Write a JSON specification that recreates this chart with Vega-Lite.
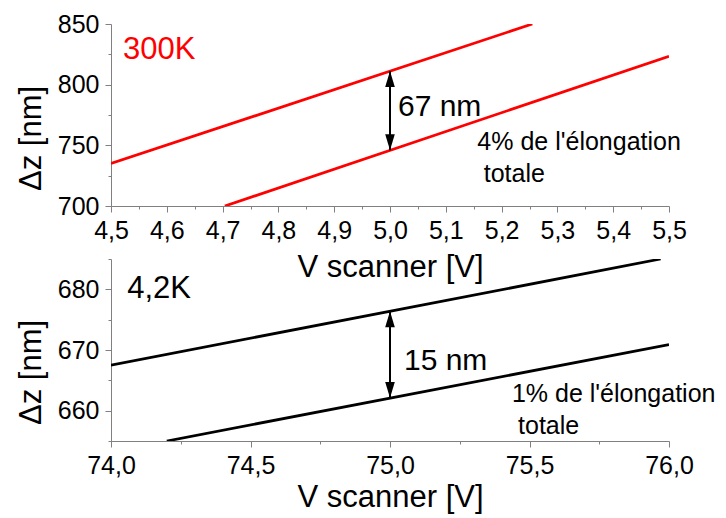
{
  "$schema": "https://vega.github.io/schema/vega-lite/v6.json",
  "background": "white",
  "padding": {"left": 14, "top": 12, "right": 5, "bottom": 5},
  "bounds": "flush",
  "spacing": 53,
  "config": {
    "view": {"stroke": null},
    "font": "Liberation Sans",
    "axis": {
      "domainColor": "#808080",
      "tickColor": "#808080",
      "domainWidth": 1,
      "tickWidth": 1,
      "labelColor": "#000000",
      "labelFont": "Liberation Sans",
      "labelFontSize": 25,
      "labelPadding": 6,
      "titleFont": "Liberation Sans",
      "titleFontSize": 31,
      "titleFontWeight": "normal",
      "titleColor": "#000000",
      "grid": false,
      "labelOverlap": false,
      "labelFlush": false,
      "labelBound": false
    }
  },
  "vconcat": [
    {
      "width": 558,
      "height": 182,
      "layer": [
        {
          "data": {"values": [
            {"s": "a", "v": 4.5, "dz": 735},
            {"s": "a", "v": 5.255, "dz": 850},
            {"s": "b", "v": 4.704, "dz": 700},
            {"s": "b", "v": 5.5, "dz": 823.4}
          ]},
          "mark": {"type": "line", "color": "#ff0000", "strokeWidth": 2.8, "clip": true},
          "encoding": {
            "x": {"field": "v", "type": "quantitative",
              "scale": {"domain": [4.5, 5.5], "nice": false, "zero": false},
              "axis": {
                "title": "V scanner [V]",
                "values": [4.5, 4.55, 4.6, 4.65, 4.7, 4.75, 4.8, 4.85, 4.9, 4.95, 5.0, 5.05, 5.1, 5.15, 5.2, 5.25, 5.3, 5.35, 5.4, 5.45, 5.5],
                "tickCount": 100,
                "labelExpr": "round(datum.value*100) % 10 == 0 ? replace(format(datum.value, '.1f'), '.', ',') : ''",
                "tickSize": {"condition": {"test": "round(datum.value*100) % 10 == 0", "value": 6}, "value": 3},
                "labelOverlap": false,
                "titleY": 70,
                "titleBaseline": "alphabetic"
              }},
            "y": {"field": "dz", "type": "quantitative",
              "scale": {"domain": [700, 850], "nice": false, "zero": false},
              "axis": {
                "title": "Δz [nm]",
                "values": [700, 725, 750, 775, 800, 825, 850],
                "tickCount": 100,
                "labelExpr": "round(datum.value) % 50 == 0 ? format(datum.value, 'd') : ''",
                "tickSize": {"condition": {"test": "round(datum.value) % 50 == 0", "value": 6}, "value": 3},
                "labelOverlap": false,
                "titleX": -71,
                "titleY": 114,
                "titleAlign": "center",
                "titleBaseline": "alphabetic"
              }},
            "detail": {"field": "s", "type": "nominal"}
          }
        },
        {
          "data": {"values": [{"v": 5.0, "lo": 745.9, "hi": 811.2}]},
          "mark": {"type": "rule", "color": "#000000", "strokeWidth": 2},
          "encoding": {
            "x": {"field": "v", "type": "quantitative"},
            "y": {"field": "lo", "type": "quantitative"},
            "y2": {"field": "hi"}
          }
        },
        {
          "data": {"values": [{"v": 5.0, "dz": 811.2, "dir": "up"}, {"v": 5.0, "dz": 745.9, "dir": "down"}]},
          "mark": {"type": "point", "filled": true, "color": "#000000", "opacity": 1, "size": 256, "strokeWidth": 0},
          "encoding": {
            "x": {"field": "v", "type": "quantitative"},
            "y": {"field": "dz", "type": "quantitative"},
            "shape": {"field": "dir", "type": "nominal", "legend": null,
              "scale": {"domain": ["up", "down"], "range": ["M0,0L-0.6,2L0.6,2Z", "M0,0L-0.6,-2L0.6,-2Z"]}}
          }
        },
        {
          "data": {"values": [{"v": 4.5215, "dz": 821.5, "t": "300K"}]},
          "mark": {"type": "text", "align": "left", "baseline": "alphabetic", "fontSize": 31, "color": "#ff0000"},
          "encoding": {
            "x": {"field": "v", "type": "quantitative"},
            "y": {"field": "dz", "type": "quantitative"},
            "text": {"field": "t"}
          }
        },
        {
          "data": {"values": [{"v": 5.0143, "dz": 774, "t": "67 nm"}]},
          "mark": {"type": "text", "align": "left", "baseline": "alphabetic", "fontSize": 30, "color": "#000000"},
          "encoding": {
            "x": {"field": "v", "type": "quantitative"},
            "y": {"field": "dz", "type": "quantitative"},
            "text": {"field": "t"}
          }
        },
        {
          "data": {"values": [
            {"v": 5.1565, "dz": 746, "t": "4% de l'élongation"},
            {"v": 5.168, "dz": 719.7, "t": "totale"}
          ]},
          "mark": {"type": "text", "align": "left", "baseline": "alphabetic", "fontSize": 25, "color": "#000000"},
          "encoding": {
            "x": {"field": "v", "type": "quantitative"},
            "y": {"field": "dz", "type": "quantitative"},
            "text": {"field": "t"}
          }
        }
      ]
    },
    {
      "width": 558,
      "height": 182,
      "layer": [
        {
          "data": {"values": [
            {"s": "a", "v": 74.0, "dz": 667.5},
            {"s": "a", "v": 75.97, "dz": 685},
            {"s": "b", "v": 74.2, "dz": 655},
            {"s": "b", "v": 76.0, "dz": 670.9}
          ]},
          "mark": {"type": "line", "color": "#000000", "strokeWidth": 2.8, "clip": true},
          "encoding": {
            "x": {"field": "v", "type": "quantitative",
              "scale": {"domain": [74, 76], "nice": false, "zero": false},
              "axis": {
                "title": "V scanner [V]",
                "values": [74.0, 74.25, 74.5, 74.75, 75.0, 75.25, 75.5, 75.75, 76.0],
                "tickCount": 100,
                "labelExpr": "round(datum.value*4) % 2 == 0 ? replace(format(datum.value, '.1f'), '.', ',') : ''",
                "tickSize": {"condition": {"test": "round(datum.value*4) % 2 == 0", "value": 6}, "value": 3},
                "labelOverlap": false,
                "titleY": 65,
                "titleBaseline": "alphabetic"
              }},
            "y": {"field": "dz", "type": "quantitative",
              "scale": {"domain": [655, 685], "nice": false, "zero": false},
              "axis": {
                "title": "Δz [nm]",
                "values": [655, 660, 665, 670, 675, 680, 685],
                "tickCount": 100,
                "labelExpr": "round(datum.value) % 10 == 0 ? format(datum.value, 'd') : ''",
                "tickSize": {"condition": {"test": "round(datum.value) % 10 == 0", "value": 6}, "value": 3},
                "labelOverlap": false,
                "titleX": -71,
                "titleY": 113,
                "titleAlign": "center",
                "titleBaseline": "alphabetic"
              }},
            "detail": {"field": "s", "type": "nominal"}
          }
        },
        {
          "data": {"values": [{"v": 75.0, "lo": 662.1, "hi": 676.4}]},
          "mark": {"type": "rule", "color": "#000000", "strokeWidth": 2},
          "encoding": {
            "x": {"field": "v", "type": "quantitative"},
            "y": {"field": "lo", "type": "quantitative"},
            "y2": {"field": "hi"}
          }
        },
        {
          "data": {"values": [{"v": 75.0, "dz": 676.4, "dir": "up"}, {"v": 75.0, "dz": 662.1, "dir": "down"}]},
          "mark": {"type": "point", "filled": true, "color": "#000000", "opacity": 1, "size": 256, "strokeWidth": 0},
          "encoding": {
            "x": {"field": "v", "type": "quantitative"},
            "y": {"field": "dz", "type": "quantitative"},
            "shape": {"field": "dir", "type": "nominal", "legend": null,
              "scale": {"domain": ["up", "down"], "range": ["M0,0L-0.6,2L0.6,2Z", "M0,0L-0.6,-2L0.6,-2Z"]}}
          }
        },
        {
          "data": {"values": [{"v": 74.058, "dz": 678.6, "t": "4,2K"}]},
          "mark": {"type": "text", "align": "left", "baseline": "alphabetic", "fontSize": 31, "color": "#000000"},
          "encoding": {
            "x": {"field": "v", "type": "quantitative"},
            "y": {"field": "dz", "type": "quantitative"},
            "text": {"field": "t"}
          }
        },
        {
          "data": {"values": [{"v": 75.05, "dz": 666.7, "t": "15 nm"}]},
          "mark": {"type": "text", "align": "left", "baseline": "alphabetic", "fontSize": 30, "color": "#000000"},
          "encoding": {
            "x": {"field": "v", "type": "quantitative"},
            "y": {"field": "dz", "type": "quantitative"},
            "text": {"field": "t"}
          }
        },
        {
          "data": {"values": [
            {"v": 75.437, "dz": 661.4, "t": "1% de l'élongation"},
            {"v": 75.459, "dz": 656.2, "t": "totale"}
          ]},
          "mark": {"type": "text", "align": "left", "baseline": "alphabetic", "fontSize": 25, "color": "#000000"},
          "encoding": {
            "x": {"field": "v", "type": "quantitative"},
            "y": {"field": "dz", "type": "quantitative"},
            "text": {"field": "t"}
          }
        }
      ]
    }
  ]
}
